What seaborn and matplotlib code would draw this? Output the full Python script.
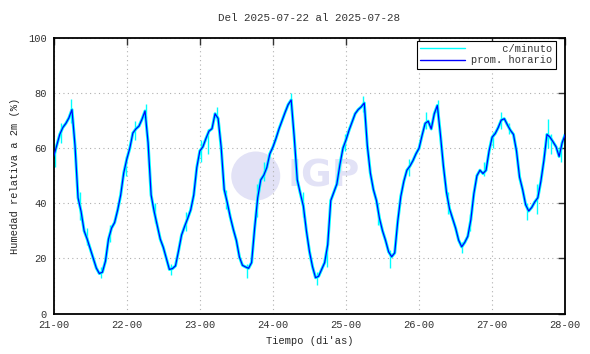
import matplotlib
matplotlib.use("Agg")
import matplotlib.pyplot as plt
from matplotlib.patches import Ellipse
import seaborn as sns
import numpy as np
import pandas as pd

# hourly mean relative humidity (%), hour 0 = day 21 00h
hum_day1 = [57, 61, 65, 67.5, 69, 71, 74, 61, 42, 37, 30, 27,
            23.5, 20, 16.5, 14.5, 15, 19, 27, 31, 33, 37.5, 43, 51]
hum_day2 = [56, 60, 65.5, 67, 68, 70.5, 73.5, 62, 43, 37, 32, 27,
            24, 20, 16, 16.3, 17.3, 22.7, 28.5, 31.6, 34.5, 37.6, 43, 53]
hum_day3 = [59, 60.5, 63.5, 66.2, 67.1, 72.5, 70.8, 60.4, 45, 40.3, 35, 30.5,
            26.5, 20.5, 17.5, 16.9, 16.4, 18.5, 31, 42, 48.5, 50.2, 53, 58]
hum_day4 = [60.4, 63.5, 67, 70, 73, 75.8, 77.5, 64, 48.5, 43.6, 39, 30,
            22.5, 17, 13, 13.5, 16, 18.5, 25, 41, 44, 47, 54, 60]
hum_day5 = [63, 66.5, 69.5, 72.5, 74, 75, 76.4, 61, 51, 45, 41, 34.5,
            30, 26.5, 22.4, 20.6, 22, 33.5, 42.5, 48, 52, 53.5, 55.5, 58]
hum_day6 = [60, 64.7, 69, 69.8, 67, 72.5, 75.5, 65, 53.5, 44, 38, 34.5,
            31, 26.6, 24.2, 25.8, 28, 34, 43.5, 50, 52, 50.8, 52, 59]
hum_day7 = [64, 65.3, 67.5, 70.2, 70.7, 68.5, 66.5, 65, 59, 49.5, 45, 39.5,
            37.2, 38.5, 40.5, 42, 48, 55.6, 65, 64, 62.3, 60.5, 57, 62, 65]

hourly = hum_day1 + hum_day2 + hum_day3 + hum_day4 + hum_day5 + hum_day6 + hum_day7
hours = np.arange(len(hourly))

# per-minute excursions visible around the hourly mean
spike_h = [0.3, 2.5, 5.6, 8.6, 10.8, 15.4, 18.6, 23.8, 26.8, 30.2, 33.2, 38.6,
           43.6, 48.4, 50.8, 53.6, 56.6, 63.4, 66.8, 69.2, 77.8, 82.0, 86.4,
           89.8, 95.6, 101.6, 106.6, 110.6, 116.8, 122.2, 126.2, 129.6, 134.2,
           136.8, 141.2, 144.2, 146.8, 149.4, 155.6, 158.6, 162.2, 163.4, 166.6]
spike_lo = [53, 62, 69, 34, 25, 13, 26, 50, 63, 71, 33, 14,
            30, 55, 58, 70, 38, 13, 35, 48, 74, 35, 10.5,
            17, 59, 73, 32, 16.5, 50, 67, 72, 36, 22,
            30, 50, 60, 67, 65, 34, 36, 60, 58, 55]
spike_hi = [60, 69, 78, 44, 31, 17, 32, 57, 70, 76, 40, 18,
            37, 63, 67, 75, 45, 18, 47, 55, 80, 44, 15,
            26, 65, 79, 40, 23, 56, 73, 77.5, 44, 26,
            36, 55, 66, 73, 69, 40, 47, 70.5, 65, 62]

day_labels = ["21-00", "22-00", "23-00", "24-00", "25-00", "26-00", "27-00", "28-00"]

df = pd.DataFrame({"hora": hours, "hum": hourly})

sns.set_theme(style="white")
plt.rcParams["font.family"] = ["Liberation Mono", "DejaVu Sans Mono"]
plt.rcParams["text.color"] = "#333333"

fig = plt.figure(figsize=(5.9, 3.54), dpi=100)
ax = fig.add_axes([0.091, 0.1144, 0.867, 0.7783])

# watermark
ax.add_patch(Ellipse((0.395, 0.499), 0.0958, 0.178, transform=ax.transAxes,
                     facecolor="#e2e2f6", edgecolor="none", zorder=0))
ax.text(0.528, 0.499, "IGP", transform=ax.transAxes, ha="center", va="center",
        fontsize=27, fontweight="bold", color="#e2e2f6",
        family="DejaVu Sans", zorder=0)

ax.vlines(spike_h, spike_lo, spike_hi, color="#00ffff", lw=1.0, zorder=2)
sns.lineplot(data=df, x="hora", y="hum", color="#00ffff", lw=2.2, ax=ax, zorder=2)
sns.lineplot(data=df, x="hora", y="hum", color="#0000ff", lw=0.9, ax=ax, zorder=3)

ax.set_xlim(0, 168)
ax.set_ylim(0, 100)
ax.set_xticks(np.arange(0, 169, 24))
ax.set_xticklabels(day_labels)
ax.set_yticks(np.arange(0, 101, 20))

ax.grid(True, color="#b0b0b0", linestyle=(0, (1, 3)), lw=0.8)
ax.tick_params(direction="in", length=5, width=1, top=True, right=True,
               labelsize=7.5, colors="#333333", pad=5)
for s in ax.spines.values():
    s.set_linewidth(1.3)
    s.set_color("black")

ax.set_xlabel("Tiempo (di'as)", fontsize=7.5, labelpad=4)
ax.set_ylabel("Humedad relativa a 2m (%)", fontsize=7.5, labelpad=6)
ax.set_title("Del 2025-07-22 al 2025-07-28", fontsize=7.8, pad=12)

h1, = ax.plot([], [], color="#00ffff", lw=1)
h2, = ax.plot([], [], color="#0000ff", lw=1.0)
leg = ax.legend([h1, h2], ["     c/minuto", "prom. horario"], loc="upper right",
                bbox_to_anchor=(0.981, 0.99), borderaxespad=0, fontsize=7.5,
                frameon=True, fancybox=False, framealpha=1, handlelength=4.3,
                handletextpad=0.6, borderpad=0.3, labelspacing=0.15)
leg.get_frame().set_edgecolor("black")
leg.get_frame().set_linewidth(0.8)

fig.savefig("out.png", dpi=100)
